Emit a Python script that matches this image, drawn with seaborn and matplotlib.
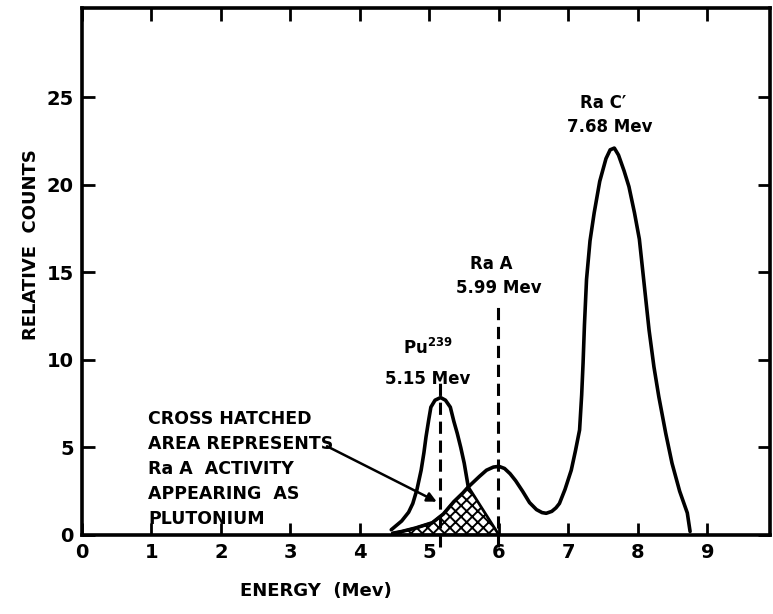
import matplotlib
matplotlib.use('Agg')
import numpy as np
import pandas as pd
import matplotlib.pyplot as plt
import seaborn as sns

# curva total (Ra A + Ra C')
energia_total = [4.47, 4.6, 4.8, 5.04, 5.2, 5.35, 5.48, 5.56, 5.64, 5.72, 5.82, 5.92, 6.0, 6.08,
                 6.16, 6.24, 6.34, 6.44, 6.54, 6.62, 6.68, 6.76, 6.82, 6.87, 6.95, 7.04, 7.1,
                 7.16, 7.19, 7.21, 7.23, 7.26, 7.31, 7.37, 7.45, 7.54, 7.6, 7.66, 7.72, 7.8,
                 7.87, 7.95, 8.02, 8.09, 8.16, 8.23, 8.3, 8.4, 8.49, 8.6, 8.71, 8.75]
contagem_total = [0.1, 0.2, 0.4, 0.7, 1.2, 1.9, 2.4, 2.75, 3.05, 3.35, 3.7, 3.88, 3.92, 3.8,
                  3.5, 3.1, 2.5, 1.85, 1.45, 1.28, 1.24, 1.35, 1.55, 1.8, 2.6, 3.7, 4.8,
                  6.0, 8.0, 9.8, 12.0, 14.6, 16.8, 18.4, 20.2, 21.5, 22.0, 22.1, 21.7, 20.8,
                  19.9, 18.4, 16.9, 14.3, 11.7, 9.6, 7.9, 5.8, 4.1, 2.5, 1.26, 0.2]

# pico do Pu239
energia_pu = [4.45, 4.6, 4.7, 4.76, 4.82, 4.88, 4.92, 4.95, 4.99, 5.02, 5.08, 5.16, 5.23,
              5.3, 5.35, 5.4, 5.45, 5.5, 5.56]
contagem_pu = [0.3, 0.8, 1.3, 1.8, 2.6, 3.7, 4.7, 5.6, 6.6, 7.3, 7.7, 7.85, 7.7,
               7.3, 6.5, 5.8, 5.0, 4.1, 2.7]

# area hachurada (Ra A aparecendo como plutonio)
hach_x = [4.47, 4.6, 4.8, 5.04, 5.2, 5.35, 5.48, 5.56, 6.0]
hach_y = [0.1, 0.2, 0.4, 0.7, 1.2, 1.9, 2.4, 2.75, 0.0]

linhas_pico = [5.15, 5.99]
topo_linhas = [8.7, 13.3]

x_ticks = [0, 1, 2, 3, 4, 5, 6, 7, 8, 9]
y_ticks = [0, 5, 10, 15, 20, 25]

sns.set_style('ticks')
plt.rcParams['font.family'] = ['DejaVu Sans']
plt.rcParams['font.weight'] = 'bold'
plt.rcParams['text.color'] = 'black'
plt.rcParams['axes.labelcolor'] = 'black'
plt.rcParams['xtick.color'] = 'black'
plt.rcParams['ytick.color'] = 'black'
plt.rcParams['hatch.linewidth'] = 1.4

fig = plt.figure(figsize=(7.73, 6.14), dpi=100)
ax = fig.add_axes([82 / 773, 1 - 535 / 614, 688 / 773, 527 / 614])

df_total = pd.DataFrame({'E': energia_total, 'N': contagem_total})
df_pu = pd.DataFrame({'E': energia_pu, 'N': contagem_pu})
sns.lineplot(data=df_total, x='E', y='N', color='black', linewidth=2.6, sort=False, ax=ax,
             solid_joinstyle='round', solid_capstyle='round')
sns.lineplot(data=df_pu, x='E', y='N', color='black', linewidth=2.6, sort=False, ax=ax,
             solid_joinstyle='round', solid_capstyle='round')

ax.fill_between(hach_x, hach_y, 0, facecolor='white', edgecolor='black', hatch='xxx', linewidth=2.0)

for xp, yt in zip(linhas_pico, topo_linhas):
    ax.plot([xp, xp], [-0.7, yt], color='black', linewidth=2.2, linestyle=(0, (4, 2.2)), clip_on=False)

ax.text(4.97, 10.7, 'Pu$^{239}$', ha='center', va='center', fontsize=12, fontweight='bold')
ax.text(4.97, 8.9, '5.15 Mev', ha='center', va='center', fontsize=12, fontweight='bold')
ax.text(5.89, 15.5, 'Ra A', ha='center', va='center', fontsize=12, fontweight='bold')
ax.text(6.0, 14.1, '5.99 Mev', ha='center', va='center', fontsize=12, fontweight='bold')
ax.text(7.5, 24.7, "Ra C\u2032", ha='center', va='center', fontsize=12, fontweight='bold')
ax.text(7.59, 23.3, '7.68 Mev', ha='center', va='center', fontsize=12, fontweight='bold')

ax.text(0.95, 7.15, 'CROSS HATCHED\nAREA REPRESENTS\nRa A  ACTIVITY\nAPPEARING  AS\nPLUTONIUM',
        ha='left', va='top', fontsize=12.5, fontweight='bold', linespacing=1.5)
ax.annotate('', xy=(5.14, 1.83), xytext=(3.49, 5.14),
            arrowprops=dict(arrowstyle='-|>', color='black', lw=1.8, mutation_scale=14))

ax.set_xlim(0, 9.9)
ax.set_ylim(0, 30.1)
ax.set_xticks(x_ticks)
ax.set_yticks(y_ticks)
ax.set_xticklabels([str(v) for v in x_ticks], fontsize=14, fontweight='bold')
ax.set_yticklabels([str(v) for v in y_ticks], fontsize=14, fontweight='bold')
ax.tick_params(direction='in', length=9, width=2, top=True, right=True, pad=6)
for s in ax.spines.values():
    s.set_linewidth(2.6)
    s.set_color('black')

ax.set_xlabel('ENERGY  (Mev)', fontsize=13, fontweight='bold')
ax.set_ylabel('RELATIVE  COUNTS', fontsize=13, fontweight='bold')
ax.xaxis.set_label_coords((316 - 82) / 688, -(582 - 535) / 527)
ax.yaxis.set_label_coords(-(82 - 40) / 688, (535 - 245) / 527)

fig.savefig('out.png', dpi=100)
